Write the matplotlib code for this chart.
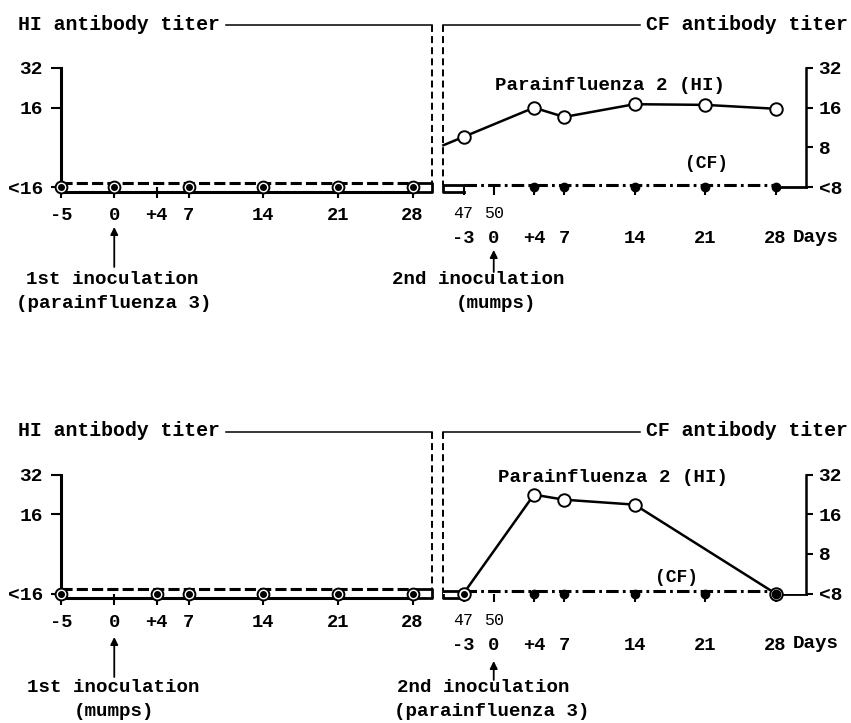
import matplotlib
matplotlib.use('Agg')
import matplotlib.pyplot as plt
from matplotlib.ticker import NullLocator
from matplotlib.transforms import ScaledTranslation

plt.rcParams['font.family'] = ['Liberation Mono', 'DejaVu Sans Mono']
plt.rcParams['font.weight'] = 'bold'
plt.rcParams['lines.scale_dashes'] = False

W, H, DPI = 851, 723, 100
PT = 72.0 / DPI          # points per pixel
BELOW = 4                # plotting level of the "<16" / "<8" row

###########################################################
# Data (titers, days after inoculation)
###########################################################

# upper panel: 1st inoculation parainfluenza 3, 2nd inoculation mumps
up_first_days = [-5, 0, 7, 14, 21, 28]
up_first_hi = [4, 4, 4, 4, 4, 4]
up_first_cf = [4, 4, 4, 4, 4, 4]
up_hi_days = [-5, -3, 4, 7, 14, 21, 28]
up_hi = [8.3, 9.6, 16.0, 13.6, 17.0, 16.8, 15.7]
up_cf_days = [-3, 0, 4, 7, 14, 21, 28]
up_cf = [4, 4, 4, 4, 4, 4, 4]

# lower panel: 1st inoculation mumps, 2nd inoculation parainfluenza 3
lo_first_days = [-5, 4, 7, 14, 21, 28]
lo_first_hi = [4, 4, 4, 4, 4, 4]
lo_first_cf = [4, 4, 4, 4, 4, 4]
lo_hi_days = [-3, 4, 7, 14, 28]
lo_hi = [4, 22.5, 20.6, 18.9, 4]
lo_cf_days = [-3, 0, 4, 7, 14, 21, 28]
lo_cf = [4, 4, 4, 4, 4, 4, 4]

first_ticks = [-5, 0, 4, 7, 14, 21, 28]
first_ticklabels = ['-5', '0', '+4', '7', '14', '21', '28']
second_ticks = [-3, 0, 4, 7, 14, 21, 28]
second_ticklabels = ['-3', '0', '+4', '7', '14', '21', '28']
second_offset = 50        # day of 2nd inoculation counted from the 1st
left_yticks = [4, 16, 32]
left_yticklabels = ['<16', '16', '32']
right_yticks = [4, 8, 16, 32]
right_yticklabels = ['<8', '8', '16', '32']

###########################################################
# Layout helpers (pixel based)
###########################################################

fig = plt.figure(figsize=(W / DPI, H / DPI), dpi=DPI, facecolor='white')
deco = fig.add_axes([0, 0, 1, 1], zorder=0)
deco.set_xlim(0, W)
deco.set_ylim(H, 0)
deco.axis('off')


def px_axes(l, t, r, b):
    ax = fig.add_axes([l / W, 1 - b / H, (r - l) / W, (b - t) / H], zorder=2)
    ax.patch.set_visible(False)
    return ax


def shifted(ax, dy_px):
    # dy_px > 0 moves down
    return ax.transData + ScaledTranslation(0, -dy_px / DPI, fig.dpi_scale_trans)


def log_y(ax):
    ax.set_yscale('log', base=2)
    ax.set_ylim(4, 32)
    ax.yaxis.set_minor_locator(NullLocator())
    ax.xaxis.set_minor_locator(NullLocator())


def inoculation(ax, base_gap_head, base_gap_tail, lines):
    ax.annotate('', xy=(0, 0), xycoords=('data', 'axes fraction'),
                xytext=(0, -base_gap_tail * PT), textcoords='offset points',
                arrowprops=dict(arrowstyle='-|>', color='k', lw=1.3,
                                mutation_scale=11, shrinkA=0,
                                shrinkB=base_gap_head * PT))
    for text, dx, dy in lines:
        ax.annotate(text, xy=(0, 0), xycoords=('data', 'axes fraction'),
                    xytext=(dx * PT, -dy * PT), textcoords='offset points',
                    ha='center', va='center', fontsize=13.8)


def draw_panel(dy, first_days, first_hi, first_cf, hi_days, hi, cf_days, cf,
               hi_label_xy, cf_label_xy, first_text, second_text):
    base = 187 + dy

    # ---------- left part (first inoculation) ----------
    axl = px_axes(61, 68 + dy, 432, base)
    axl.set_xlim(-5, 29.83)
    log_y(axl)
    for s in ['top', 'right', 'bottom']:
        axl.spines[s].set_visible(False)
    axl.spines['left'].set_linewidth(2.2)
    axl.set_yticks(left_yticks)
    axl.set_yticklabels(left_yticklabels)
    axl.set_xticks(first_ticks)
    axl.set_xticklabels(first_ticklabels)
    axl.tick_params(axis='y', direction='out', length=7, width=1.5, pad=6,
                    labelsize=14)
    axl.tick_params(axis='x', direction='out', length=8, width=1.5, pad=6.5,
                    labelsize=13.5)

    axl.plot(first_days, first_hi, color='k', lw=2.2, transform=shifted(axl, 4.5),
             clip_on=False, zorder=3)
    axl.plot(first_days, first_cf, color='k', lw=2.2, dashes=(8, 3),
             transform=shifted(axl, -4.5), clip_on=False, zorder=3)
    axl.plot(first_days, first_hi, 'o', ms=8.5, mfc='white', mec='k', mew=1.4,
             clip_on=False, zorder=5)
    axl.plot(first_days, first_hi, 'o', ms=4, color='k', clip_on=False, zorder=6)
    inoculation(axl, *first_text)

    # ---------- right part (second inoculation) ----------
    axr = px_axes(443.4, 68 + dy, 806, base)
    axr.set_xlim(-5, 31.03)
    log_y(axr)
    for s in ['top', 'left', 'bottom']:
        axr.spines[s].set_visible(False)
    axr.spines['right'].set_linewidth(1.8)
    axr.yaxis.tick_right()
    axr.set_yticks(right_yticks)
    axr.set_yticklabels(right_yticklabels)
    axr.set_xticks(second_ticks)
    axr.set_xticklabels(second_ticklabels)
    axr.tick_params(axis='y', direction='out', length=5, width=1.5, pad=4,
                    labelsize=14)
    axr.tick_params(axis='x', direction='out', length=6, width=1.5, pad=25,
                    labelsize=13.5)

    sec = axr.secondary_xaxis('bottom', functions=(lambda d: d + second_offset,
                                                    lambda d: d - second_offset))
    sec.set_xticks([second_ticks[0] + second_offset, second_ticks[1] + second_offset])
    sec.tick_params(length=0, pad=14, labelsize=12)
    sec.spines['bottom'].set_visible(False)
    for lab in sec.get_xticklabels():
        lab.set_fontweight('normal')

    axr.annotate('Days', xy=(second_ticks[-1], 0), xycoords=('data', 'axes fraction'),
                 xytext=(17.5 * PT, -50 * PT), textcoords='offset points',
                 ha='left', va='center', fontsize=13.8)

    cf_marks = [i for i, d in enumerate(cf_days) if d >= 4]
    axr.plot(cf_days, cf, color='k', lw=2.2, dashes=(9, 3, 2, 3),
             transform=shifted(axr, -2.5), clip_on=False, zorder=3)
    axr.plot([cf_days[i] for i in cf_marks], [cf[i] for i in cf_marks], 'o',
             ms=6, color='k', clip_on=False, zorder=6)

    hi_marks = [i for i, d in enumerate(hi_days) if d >= -3]
    axr.plot(hi_days, hi, color='k', lw=1.8, clip_on=False, zorder=4)
    axr.plot([hi_days[i] for i in hi_marks], [hi[i] for i in hi_marks], 'o',
             ms=9, mfc='white', mec='k', mew=1.4, clip_on=False, zorder=5)
    low = [i for i in hi_marks if hi[i] <= BELOW]
    axr.plot([hi_days[i] for i in low], [hi[i] for i in low], 'o',
             ms=4, color='k', clip_on=False, zorder=7)
    inoculation(axr, *second_text)

    # ---------- frame decorations ----------
    deco.text(18, 24 + dy, 'HI antibody titer', ha='left', va='center',
              fontsize=14.3)
    deco.text(848, 24 + dy, 'CF antibody titer', ha='right', va='center',
              fontsize=14.3)
    deco.plot([226, 432], [25 + dy, 25 + dy], color='k', lw=1.1)
    deco.plot([432, 432], [25 + dy, 182.5 + dy], color='k', lw=1.4, dashes=(5, 3))
    deco.plot([412.5, 432, 432, 412.5],
              [182.5 + dy, 182.5 + dy, 191.5 + dy, 191.5 + dy], color='k', lw=2)
    deco.plot([443.4, 640], [25 + dy, 25 + dy], color='k', lw=1.1)
    deco.plot([443.4, 443.4], [25 + dy, 184.5 + dy], color='k', lw=1.4,
              dashes=(5, 3))
    deco.plot([463.5, 443.4, 443.4, 463.5],
              [184.5 + dy, 184.5 + dy, 191.5 + dy, 191.5 + dy], color='k', lw=2)
    deco.plot([775.5, 806], [base, base], color='k', lw=2)

    deco.text(*hi_label_xy, 'Parainfluenza 2 (HI)', ha='center', va='center',
              fontsize=13.8)
    deco.text(*cf_label_xy, '(CF)', ha='center', va='center', fontsize=13)


draw_panel(0, up_first_days, up_first_hi, up_first_cf, up_hi_days, up_hi,
           up_cf_days, up_cf, (610, 85), (707, 163),
           (40, 80, [('1st inoculation', -2, 93), ('(parainfluenza 3)', -1, 116)]),
           (63, 85, [('2nd inoculation', -15, 93), ('(mumps)', 2, 116)]))

draw_panel(406.5, lo_first_days, lo_first_hi, lo_first_cf, lo_hi_days, lo_hi,
           lo_cf_days, lo_cf, (613, 477), (677, 577),
           (43.5, 83.5, [('1st inoculation', -1, 94.5), ('(mumps)', 0, 118.5)]),
           (67.5, 86.5, [('2nd inoculation', -10, 94.5), ('(parainfluenza 3)', -2, 118.5)]))

plt.savefig('out.png', dpi=DPI, facecolor='white')
